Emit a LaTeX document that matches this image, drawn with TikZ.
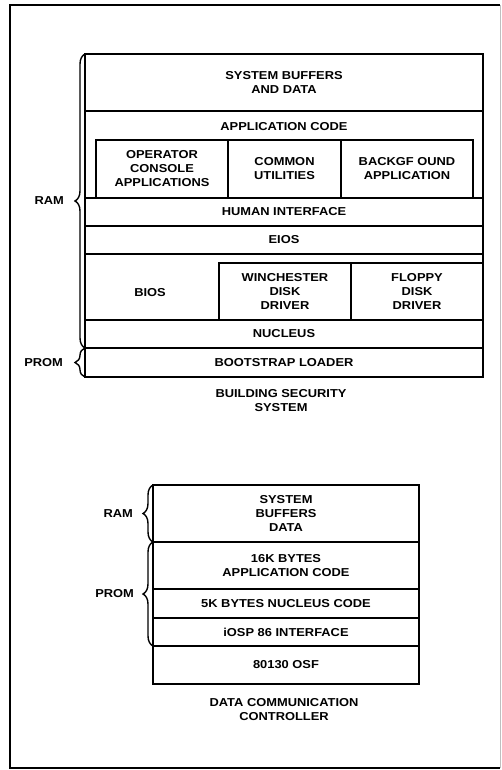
\documentclass[tikz,border=0pt]{standalone}
\usepackage{fontspec}
\setmainfont[FakeStretch=1.12]{Liberation Sans}
\usetikzlibrary{decorations.pathreplacing}
\begin{document}
\begin{tikzpicture}[x=1pt,y=-1pt,
  font=\bfseries\fontsize{11.5}{14}\selectfont,
  box/.style={draw,line width=1.7pt,inner sep=0pt,align=center},
  txt/.style={inner sep=0pt,align=center},
  brc/.style={draw,line width=1.4pt,decorate,decoration={brace,amplitude=10pt}}]
\useasboundingbox (0,0) rectangle (501,770);
\draw[line width=2.2pt] (500,5) -- (10,5) -- (10,768) -- (500,768);
\draw[line width=0.6pt,black!25] (500,5) -- (500,768);
% upper stack
\node[box,minimum width=398pt,minimum height=57pt] (sbd) at (284,82.5) {SYSTEM BUFFERS\\AND DATA};
\node[box,minimum width=398pt,minimum height=87pt] (app) at (284,154.5) {};
\node[txt] (appt) at (284,127) {APPLICATION CODE};
\node[box,minimum width=132pt,minimum height=58pt] (op) at (162,169) {OPERATOR\\CONSOLE\\APPLICATIONS};
\node[box,minimum width=113pt,minimum height=58pt] (cu) at (284.5,169) {COMMON\\UTILITIES};
\node[box,minimum width=132pt,minimum height=58pt] (bg) at (407,169) {BACKGF OUND\\APPLICATION};
\node[box,minimum width=398pt,minimum height=28pt] (hi) at (284,212) {HUMAN INTERFACE};
\node[box,minimum width=398pt,minimum height=28pt] (eios) at (284,240) {EIOS};
\node[box,minimum width=398pt,minimum height=66pt] (biosrow) at (284,287) {};
\node[txt] (bios) at (150,293) {BIOS};
\node[box,minimum width=132pt,minimum height=57pt] (wd) at (285,291.5) {WINCHESTER\\DISK\\DRIVER};
\node[box,minimum width=132pt,minimum height=57pt] (fd) at (417,291.5) {FLOPPY\\DISK\\DRIVER};
\node[box,minimum width=398pt,minimum height=28pt] (nuc) at (284,334) {NUCLEUS};
\node[box,minimum width=398pt,minimum height=29pt] (boot) at (284,362.5) {BOOTSTRAP LOADER};
\draw[brc] (85,348) -- (85,54) node[midway,left=17pt] (ram1) {RAM};
\draw[brc] (85,377) -- (85,348) node[midway,left=18pt] (prom1) {PROM};
\node[txt] (cap1) at (281,401) {BUILDING SECURITY\\SYSTEM};
% lower stack
\node[box,minimum width=266pt,minimum height=57pt] (sbd2) at (286,513.5) {SYSTEM\\BUFFERS\\DATA};
\node[box,minimum width=266pt,minimum height=47pt] (ac2) at (286,565.5) {16K BYTES\\APPLICATION CODE};
\node[box,minimum width=266pt,minimum height=29pt] (nc2) at (286,603.5) {5K BYTES NUCLEUS CODE};
\node[box,minimum width=266pt,minimum height=28pt] (io2) at (286,632) {iOSP 86 INTERFACE};
\node[box,minimum width=266pt,minimum height=38pt] (osf) at (286,665) {80130 OSF};
\draw[brc] (153,542) -- (153,485) node[midway,left=16pt] (ram2) {RAM};
\draw[brc] (153,646) -- (153,542) node[midway,left=15pt] (prom2) {PROM};
\node[txt] (cap2) at (284,710) {DATA COMMUNICATION\\CONTROLLER};
\end{tikzpicture}
\end{document}
